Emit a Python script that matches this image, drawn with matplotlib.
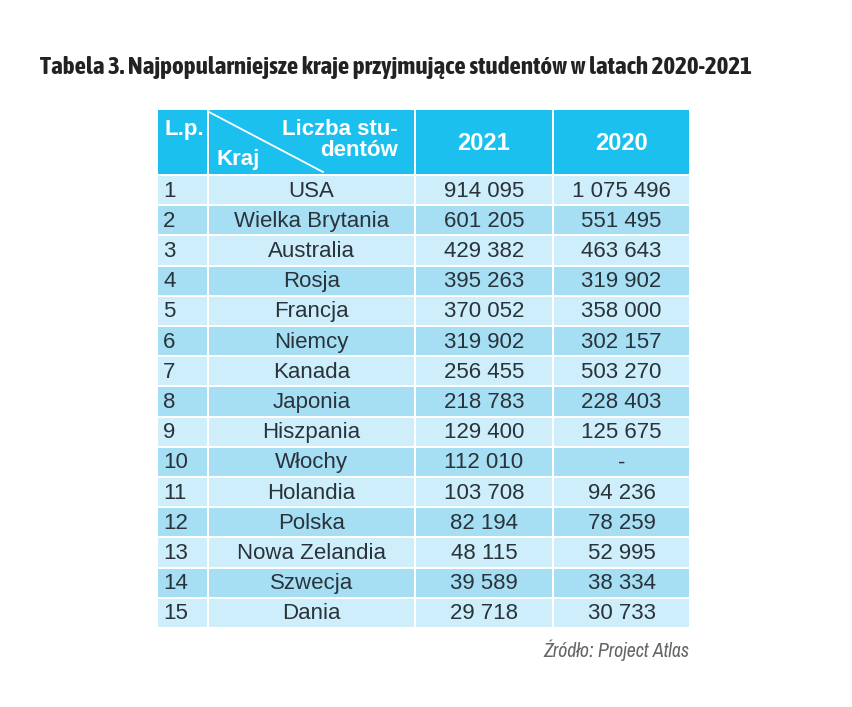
import matplotlib.pyplot as plt
from matplotlib.patches import Rectangle
from matplotlib import font_manager
import matplotlib.patheffects as pe

# dane tabeli
lp = [str(i) for i in range(1, 16)]
kraje = ['USA', 'Wielka Brytania', 'Australia', 'Rosja', 'Francja', 'Niemcy',
         'Kanada', 'Japonia', 'Hiszpania', 'Włochy', 'Holandia', 'Polska',
         'Nowa Zelandia', 'Szwecja', 'Dania']
v2021 = ['914 095', '601 205', '429 382', '395 263', '370 052', '319 902',
         '256 455', '218 783', '129 400', '112 010', '103 708', '82 194',
         '48 115', '39 589', '29 718']
v2020 = ['1 075 496', '551 495', '463 643', '319 902', '358 000', '302 157',
         '503 270', '228 403', '125 675', '-', '94 236', '78 259',
         '52 995', '38 334', '30 733']
naglowki_lat = ['2021', '2020']
tytul = 'Tabela 3. Najpopularniejsze kraje przyjmujące studentów w latach 2020-2021'
zrodlo = 'Źródło: Project Atlas'

W, H = 852, 707
fig = plt.figure(figsize=(W / 100, H / 100), dpi=100)
ax = fig.add_axes([0, 0, 1, 1])
ax.set_xlim(0, W)
ax.set_ylim(H, 0)
ax.axis('off')

# waski font do tytulu (jesli jest), najlepiej pogrubiony
waskie = [f for f in font_manager.fontManager.ttflist
          if 'Narrow' in f.name or 'Condensed' in f.name]
grube = [f for f in waskie if f.weight in (700, 'bold') and f.style == 'normal']
kursywa = [f for f in waskie if f.style == 'italic' and f.weight in (400, 'normal', 'regular')]
if grube:
    fp_tytul = font_manager.FontProperties(fname=grube[0].fname)
    efekt = []
else:
    fp_tytul = font_manager.FontProperties(family=(waskie[0].name if waskie else 'Liberation Sans'),
                                           weight='bold')
    efekt = [pe.withStroke(linewidth=0.9, foreground='#222222')]
if kursywa:
    fp_zrodlo = font_manager.FontProperties(fname=kursywa[0].fname)
else:
    fp_zrodlo = font_manager.FontProperties(family=(waskie[0].name if waskie else 'Liberation Sans'),
                                            style='italic')
body = 'Liberation Sans'

col_x = [157, 208, 415, 553, 690]
head_top, head_bot = 110, 174
row_h = (628 - 175) / 15
gap = 2

header_c = '#1cc0ef'
light_c = '#cdeefa'
dark_c = '#a6def3'
txt_c = '#2a333a'

# naglowek
for i in range(4):
    ax.add_patch(Rectangle((col_x[i] + gap / 2, head_top), col_x[i + 1] - col_x[i] - gap,
                           head_bot - head_top, color=header_c, lw=0))
ax.plot([col_x[1] + 1, 323], [head_top + 2, head_bot - 2], color='white', lw=1.3)
ax.text(col_x[0] + 7, 130, 'L.p.', color='white', fontsize=16, fontweight='bold',
        family=body, ha='left', va='center')
ax.text(398, 140, 'Liczba stu-\ndentów', color='white', fontsize=16, fontweight='bold',
        family=body, ha='right', va='center', multialignment='right', linespacing=0.95)
ax.text(col_x[1] + 9, 160, 'Kraj', color='white', fontsize=16, fontweight='bold',
        family=body, ha='left', va='center')
for j, rok in enumerate(naglowki_lat):
    ax.text((col_x[2 + j] + col_x[3 + j]) / 2, 143, rok, color='white', fontsize=17,
            fontweight='bold', family=body, ha='center', va='center')

# wiersze
for r in range(len(kraje)):
    y0 = head_bot + 1 + r * row_h
    kolor = light_c if r % 2 == 0 else dark_c
    for i in range(4):
        ax.add_patch(Rectangle((col_x[i] + gap / 2, y0 + gap / 2), col_x[i + 1] - col_x[i] - gap,
                               row_h - gap, color=kolor, lw=0))
    yc = y0 + row_h / 2 + 1
    ax.text(col_x[0] + 6, yc, lp[r], color=txt_c, fontsize=16, family=body,
            ha='left', va='center')
    ax.text((col_x[1] + col_x[2]) / 2, yc, kraje[r], color=txt_c, fontsize=16, family=body,
            ha='center', va='center')
    ax.text((col_x[2] + col_x[3]) / 2, yc, v2021[r], color=txt_c, fontsize=16, family=body,
            ha='center', va='center')
    ax.text((col_x[3] + col_x[4]) / 2, yc, v2020[r], color=txt_c, fontsize=16, family=body,
            ha='center', va='center')

fp_tytul.set_size(18)
fp_zrodlo.set_size(14)
t = ax.text(40, 74, tytul, color='#222222', fontproperties=fp_tytul,
            ha='left', va='baseline', path_effects=efekt)
s = ax.text(689, 657, zrodlo, color='#666666', fontproperties=fp_zrodlo,
            ha='right', va='baseline')

# dopasowanie szerokosci tytulu i zrodla
fig.canvas.draw()
r_ = fig.canvas.get_renderer()
t.set_fontsize(18 * 712 / t.get_window_extent(r_).width)
s.set_fontsize(14 * 146 / s.get_window_extent(r_).width)

fig.savefig('out.png', dpi=100)
